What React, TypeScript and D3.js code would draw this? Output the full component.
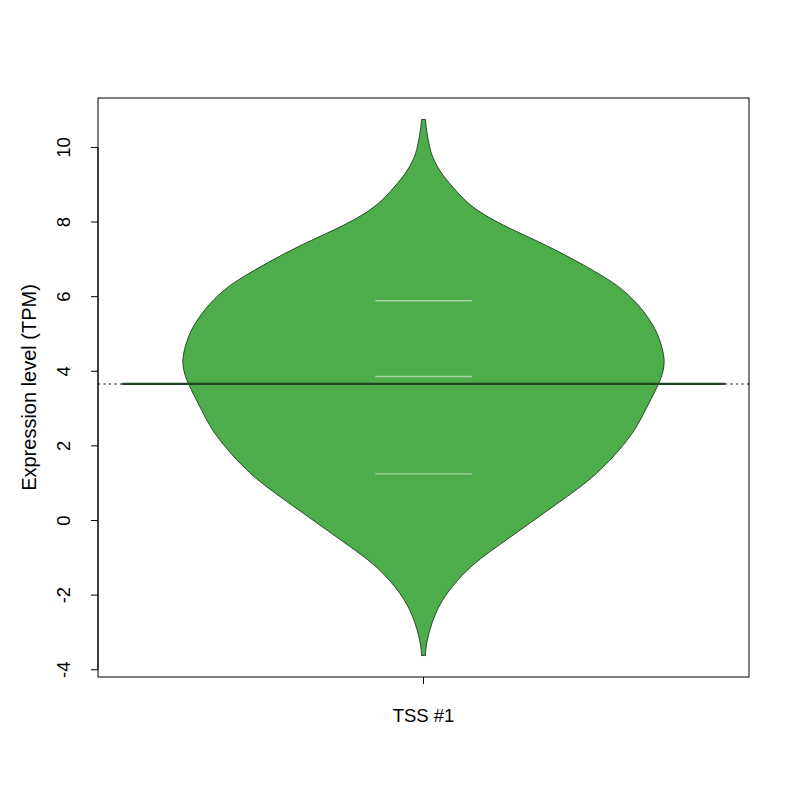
import React, { useEffect, useRef } from 'react';
import * as d3 from 'd3';

// violin outline: value and relative half-width
const violinValues = [10.75, 10.46, 10.0, 9.74, 9.48, 9.26, 9.04, 8.82, 8.59, 8.32, 8.05, 7.78, 7.51, 7.25, 6.98, 6.71, 6.45, 6.18, 5.91, 5.64, 5.38, 5.11, 4.84, 4.57, 4.31, 4.04, 3.77, 3.5, 3.23, 2.97, 2.7, 2.43, 2.16, 1.9, 1.63, 1.36, 1.09, 0.65, 0.21, -0.25, -0.69, -1.13, -1.59, -2.03, -2.47, -2.93, -3.37, -3.62];
const violinDensity = [0.008, 0.012, 0.025, 0.037, 0.058, 0.079, 0.108, 0.137, 0.17, 0.22, 0.29, 0.373, 0.465, 0.548, 0.627, 0.701, 0.77, 0.828, 0.872, 0.909, 0.938, 0.963, 0.98, 0.992, 1, 0.996, 0.983, 0.963, 0.942, 0.921, 0.9, 0.876, 0.846, 0.813, 0.776, 0.734, 0.689, 0.598, 0.502, 0.402, 0.307, 0.212, 0.141, 0.087, 0.05, 0.025, 0.01, 0.008];
const quantiles = [5.89, 3.86, 1.25];
const refLine = 3.66;
const categories = ['TSS #1'];
const yTicks = [-4, -2, 0, 2, 4, 6, 8, 10];

const W = 800, H = 800;
const left = 98, right = 749, top = 98, bottom = 677;

const ViolinChart: React.FC = () => {
  const svgRef = useRef<SVGSVGElement>(null);

  useEffect(() => {
    if (!svgRef.current) return;
    d3.select(svgRef.current).selectAll('*').remove();

    const svg = d3.select(svgRef.current)
      .attr('width', W)
      .attr('height', H)
      .style('position', 'absolute')
      .style('left', '0px')
      .style('top', '0px')
      .style('font-family', '"Liberation Sans", Arial, sans-serif');

    // R style: 4% padding on both axes
    const yMin = d3.min(violinValues)!, yMax = d3.max(violinValues)!;
    const pad = (yMax - yMin) * 0.04;
    const y = d3.scaleLinear().domain([yMin - pad, yMax + pad]).range([bottom, top]);
    const x = d3.scaleLinear().domain([0.46, 1.54]).range([left, right]);

    const halfMax = 0.4;
    const pts = violinValues.map((v, i) => ({ v, w: violinDensity[i] * halfMax }));
    const area = d3.area<{ v: number; w: number }>()
      .y(d => y(d.v))
      .x0(d => x(1 - d.w))
      .x1(d => x(1 + d.w))
      .curve(d3.curveBasis);

    svg.append('path')
      .attr('d', area(pts) || '')
      .attr('fill', '#4DAD4A')
      .attr('stroke', '#1f3a1f')
      .attr('stroke-width', 0.9);

    // quantile marks
    svg.selectAll('.q')
      .data(quantiles)
      .enter().append('line')
      .attr('x1', x(0.92)).attr('x2', x(1.08))
      .attr('y1', d => y(d)).attr('y2', d => y(d))
      .attr('stroke', '#a6d7a4')
      .attr('stroke-width', 1.3);

    // dotted reference line across the plot
    svg.append('line')
      .attr('x1', left).attr('x2', right)
      .attr('y1', y(refLine)).attr('y2', y(refLine))
      .attr('stroke', '#000')
      .attr('stroke-width', 1.1)
      .attr('stroke-dasharray', '2,3.5');

    svg.append('line')
      .attr('x1', x(0.5)).attr('x2', x(1.5))
      .attr('y1', y(refLine)).attr('y2', y(refLine))
      .attr('stroke', '#1e4621')
      .attr('stroke-width', 2.2);

    // frame
    svg.append('rect')
      .attr('x', left).attr('y', top)
      .attr('width', right - left).attr('height', bottom - top)
      .attr('fill', 'none').attr('stroke', '#000').attr('stroke-width', 1);

    // y axis
    const ya = svg.append('g');
    ya.append('line')
      .attr('x1', left).attr('x2', left)
      .attr('y1', y(-4)).attr('y2', y(10))
      .attr('stroke', '#000');
    yTicks.forEach(t => {
      ya.append('line')
        .attr('x1', left - 7).attr('x2', left)
        .attr('y1', y(t)).attr('y2', y(t))
        .attr('stroke', '#000');
      ya.append('text')
        .attr('transform', `translate(70,${y(t)}) rotate(-90)`)
        .attr('text-anchor', 'middle')
        .attr('font-size', 18.5)
        .text(t);
    });

    // x axis
    categories.forEach((c, i) => {
      svg.append('line')
        .attr('x1', x(i + 1)).attr('x2', x(i + 1))
        .attr('y1', bottom).attr('y2', bottom + 7)
        .attr('stroke', '#000');
      svg.append('text')
        .attr('x', x(i + 1)).attr('y', 722)
        .attr('text-anchor', 'middle')
        .attr('font-size', 18.5)
        .text(c);
    });

    svg.append('text')
      .attr('transform', `translate(36,${(top + bottom) / 2}) rotate(-90)`)
      .attr('text-anchor', 'middle')
      .attr('font-size', 20)
      .text('Expression level (TPM)');
  }, []);

  return <svg ref={svgRef}></svg>;
};

export default function App() {
  return <ViolinChart />;
}
